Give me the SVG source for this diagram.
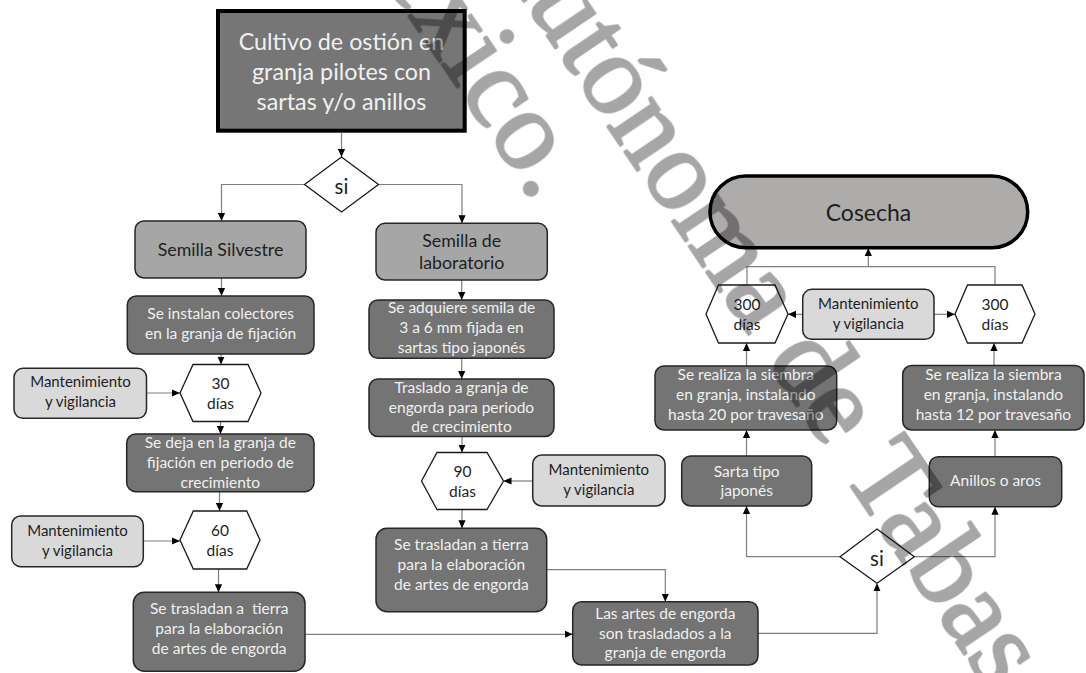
<svg xmlns="http://www.w3.org/2000/svg" width="1086" height="673" viewBox="0 0 1086 673">
<style>
.dk{fill:#747474;stroke:#262626;stroke-width:1.5}
.lt{fill:#a6a6a6;stroke:#262626;stroke-width:1.5}
.mt{fill:#d9d9d9;stroke:#262626;stroke-width:1.5}
.hx{fill:#ffffff;stroke:#1a1a1a;stroke-width:1.3}
.tw{font-family:Lato,"Open Sans",sans-serif;font-size:15.5px;fill:#f0f0f0;text-anchor:middle}
.tb{font-family:Lato,"Open Sans",sans-serif;font-size:15.5px;fill:#1e1e1e;text-anchor:middle}
.tm{font-family:Lato,"Open Sans",sans-serif;font-size:15px;fill:#1e1e1e;text-anchor:middle}
.ts{font-family:Lato,"Open Sans",sans-serif;font-size:17.8px;fill:#1e1e1e;text-anchor:middle}
.conn path{fill:none;stroke:#7f7f7f;stroke-width:1.2}
.wm{font-family:"Liberation Serif",serif;font-size:115px;fill:#000;stroke:#000;stroke-width:2.5;stroke-linejoin:round}
</style>
<defs>
<marker id="ah" viewBox="0 0 10 10" refX="10" refY="5" markerWidth="8" markerHeight="8" markerUnits="userSpaceOnUse" orient="auto">
<path d="M0,0.5 L10,5 L0,9.5 z" fill="#000"/>
</marker>
</defs>
<rect width="1086" height="673" fill="#fff"/>

<g id="connectors" class="conn">
<path d="M341.5,133 V157" marker-end="url(#ah)"/>
<path d="M304.5,184.5 H221.5 V221" marker-end="url(#ah)"/>
<path d="M378.5,184.5 H462 V223.3" marker-end="url(#ah)"/>
<path d="M221.5,278 V296" marker-end="url(#ah)"/>
<path d="M221,354 V364.5" marker-end="url(#ah)"/>
<path d="M146.5,393 H180" marker-end="url(#ah)"/>
<path d="M220.5,421.5 V434" marker-end="url(#ah)"/>
<path d="M219.5,491.7 V511" marker-end="url(#ah)"/>
<path d="M143.3,541 H180" marker-end="url(#ah)"/>
<path d="M218.5,569 V592.3" marker-end="url(#ah)"/>
<path d="M305,634.3 H572.7" marker-end="url(#ah)"/>
<path d="M461.7,280 V300" marker-end="url(#ah)"/>
<path d="M461.7,358.3 V379" marker-end="url(#ah)"/>
<path d="M462,436.5 V452.5" marker-end="url(#ah)"/>
<path d="M532.7,481 H503.5" marker-end="url(#ah)"/>
<path d="M462,509.5 V528.3" marker-end="url(#ah)"/>
<path d="M546.7,569.7 H665.3 V601.7" marker-end="url(#ah)"/>
<path d="M758,633.3 H877 V583.3" marker-end="url(#ah)"/>
<path d="M840,556.7 H746.5 V506" marker-end="url(#ah)"/>
<path d="M914.3,556.7 H995 V506.7" marker-end="url(#ah)"/>
<path d="M746.5,456 V430" marker-end="url(#ah)"/>
<path d="M995,456.7 V430" marker-end="url(#ah)"/>
<path d="M746.5,366 V343" marker-end="url(#ah)"/>
<path d="M994,365.5 V343" marker-end="url(#ah)"/>
<path d="M802.7,314.3 H788" marker-end="url(#ah)"/>
<path d="M934,314.3 H955" marker-end="url(#ah)"/>
<path d="M747,285 V266.7 H995 V285"/>
<path d="M868.3,266.7 V248" marker-end="url(#ah)"/>
</g>

<g id="titulo">
<rect x="218" y="11" width="246.7" height="119.7" fill="#767676" stroke="#000" stroke-width="4"/>
<text class="tw" style="font-size:23.3px" x="341.5" y="49.5">Cultivo de ostión en</text>
<text class="tw" style="font-size:23.3px" x="341.5" y="79.5">granja pilotes con</text>
<text class="tw" style="font-size:23.3px" x="341.5" y="109.5">sartas y/o anillos</text>
</g>

<g id="decision1">
<polygon class="hx" points="304.5,184.5 341.5,157 378.5,184.5 341.5,212"/>
<text class="tb" style="font-size:20.5px" x="341.5" y="193.5">si</text>
</g>

<g id="semilla-silvestre">
<rect class="lt" x="135" y="221" width="171" height="57" rx="9"/>
<text class="ts" x="220.5" y="255.5">Semilla Silvestre</text>
</g>

<g id="colectores">
<rect class="dk" x="127.3" y="296" width="186.7" height="58" rx="9"/>
<text class="tw" x="220.7" y="319.3">Se instalan colectores</text>
<text class="tw" x="220.7" y="339.3">en la granja de fijación</text>
</g>

<g id="dias30">
<polygon class="hx" points="180,393 193,364.5 248,364.5 261,393 248,421.5 193,421.5"/>
<text class="tb" x="220.5" y="388.5">30</text>
<text class="tb" x="220.5" y="408.5">días</text>
</g>

<g id="mant1">
<rect class="mt" x="14" y="368.3" width="132.5" height="50" rx="9"/>
<text class="tm" x="80.5" y="387.3">Mantenimiento</text>
<text class="tm" x="80.5" y="407.3">y vigilancia</text>
</g>

<g id="se-deja">
<rect class="dk" x="126.7" y="434" width="187.3" height="57.7" rx="9"/>
<text class="tw" x="220.3" y="448.3">Se deja en la granja de</text>
<text class="tw" x="220.3" y="468.3">fijación en periodo de</text>
<text class="tw" x="220.3" y="488">crecimiento</text>
</g>

<g id="dias60">
<polygon class="hx" points="180,540 193.3,511 246.7,511 260,540 246.7,569 193.3,569"/>
<text class="tb" x="220" y="535.5">60</text>
<text class="tb" x="220" y="555.5">días</text>
</g>

<g id="mant2">
<rect class="mt" x="11.7" y="516" width="131.6" height="50.7" rx="9"/>
<text class="tm" x="77.5" y="535.7">Mantenimiento</text>
<text class="tm" x="77.5" y="555.5">y vigilancia</text>
</g>

<g id="trasladan-izq">
<rect class="dk" x="133.3" y="592.3" width="171.7" height="79" rx="11"/>
<text class="tw" x="219.2" y="614.3" xml:space="preserve">Se trasladan a  tierra</text>
<text class="tw" x="219.2" y="634.3">para la elaboración</text>
<text class="tw" x="219.2" y="654.3">de artes de engorda</text>
</g>

<g id="semilla-lab">
<rect class="lt" x="376" y="223.3" width="171.3" height="56.7" rx="9"/>
<text class="ts" x="461.7" y="247.3">Semilla de</text>
<text class="ts" x="461.7" y="269.3">laboratorio</text>
</g>

<g id="adquiere">
<rect class="dk" x="369" y="300" width="185" height="58.3" rx="9"/>
<text class="tw" x="461.5" y="313">Se adquiere semila de</text>
<text class="tw" x="461.5" y="333">3 a 6 mm fijada en</text>
<text class="tw" x="461.5" y="353">sartas tipo japonés</text>
</g>

<g id="traslado">
<rect class="dk" x="369" y="379" width="185" height="57.5" rx="9"/>
<text class="tw" x="461.5" y="393.3">Traslado a granja de</text>
<text class="tw" x="461.5" y="413.3">engorda para periodo</text>
<text class="tw" x="461.5" y="432.3">de crecimiento</text>
</g>

<g id="dias90">
<polygon class="hx" points="421.5,481 437,452.5 487,452.5 503.5,481 487,509.5 437,509.5"/>
<text class="tb" x="462.5" y="476.5">90</text>
<text class="tb" x="462.5" y="496.5">días</text>
</g>

<g id="mant3">
<rect class="mt" x="532.7" y="455" width="132.3" height="51" rx="9"/>
<text class="tm" x="598.8" y="475">Mantenimiento</text>
<text class="tm" x="598.8" y="495">y vigilancia</text>
</g>

<g id="trasladan-centro">
<rect class="dk" x="376" y="528.3" width="170.7" height="83.4" rx="11"/>
<text class="tw" x="461.4" y="550">Se trasladan a tierra</text>
<text class="tw" x="461.4" y="570">para la elaboración</text>
<text class="tw" x="461.4" y="590">de artes de engorda</text>
</g>

<g id="artes">
<rect class="dk" x="572.7" y="601.7" width="185.3" height="63.3" rx="9"/>
<text class="tw" x="665.3" y="618.5">Las artes de engorda</text>
<text class="tw" x="665.3" y="638.5">son trasladados a la</text>
<text class="tw" x="665.3" y="658">granja de engorda</text>
</g>

<g id="decision2">
<polygon class="hx" points="840,556.7 877,529 914.3,556.7 877,583.3"/>
<text class="tb" style="font-size:20.5px" x="877" y="565.5">si</text>
</g>

<g id="sarta">
<rect class="dk" x="681.7" y="456" width="130" height="50" rx="9"/>
<text class="tw" x="746.7" y="476.7">Sarta tipo</text>
<text class="tw" x="746.7" y="496">japonés</text>
</g>

<g id="anillos">
<rect class="dk" x="929.3" y="456.7" width="132.4" height="50" rx="9"/>
<text class="tw" x="995.5" y="486">Anillos o aros</text>
</g>

<g id="siembra-izq">
<rect class="dk" x="655" y="366" width="181.7" height="64" rx="9"/>
<text class="tw" x="745.8" y="380">Se realiza la siembra</text>
<text class="tw" x="745.8" y="400">en granja, instalando</text>
<text class="tw" x="745.8" y="420">hasta 20 por travesaño</text>
</g>

<g id="siembra-der">
<rect class="dk" x="902.7" y="365.5" width="181.3" height="64.5" rx="9"/>
<text class="tw" x="993.4" y="380">Se realiza la siembra</text>
<text class="tw" x="993.4" y="400">en granja, instalando</text>
<text class="tw" x="993.4" y="420">hasta 12 por travesaño</text>
</g>

<g id="dias300-izq">
<polygon class="hx" points="706,314 718.5,285 775,285 788,314 775,343 718.5,343"/>
<text class="tb" x="747" y="309.5">300</text>
<text class="tb" x="747" y="329.5">días</text>
</g>

<g id="mant-top">
<rect class="mt" x="802.7" y="289.3" width="131.3" height="50" rx="9"/>
<text class="tm" x="868.3" y="309.3">Mantenimiento</text>
<text class="tm" x="868.3" y="329.3">y vigilancia</text>
</g>

<g id="dias300-der">
<polygon class="hx" points="955,314 967.5,285 1022,285 1035,314 1022,343 967.5,343"/>
<text class="tb" x="995" y="309.5">300</text>
<text class="tb" x="995" y="329.5">días</text>
</g>

<g id="cosecha">
<rect x="710" y="176" width="317.7" height="71.7" rx="35.8" fill="#aeabab" stroke="#000" stroke-width="3.5"/>
<text class="tb" style="font-size:23px" x="868.5" y="220.7">Cosecha</text>
</g>

<g id="watermark" opacity="0.35">
<text class="wm" transform="translate(534.9,203.4) rotate(56)" text-anchor="end">México.</text>
<text class="wm" transform="translate(477.9,-66.5) rotate(56)">Autónoma de Tabasco</text>
</g>
</svg>
